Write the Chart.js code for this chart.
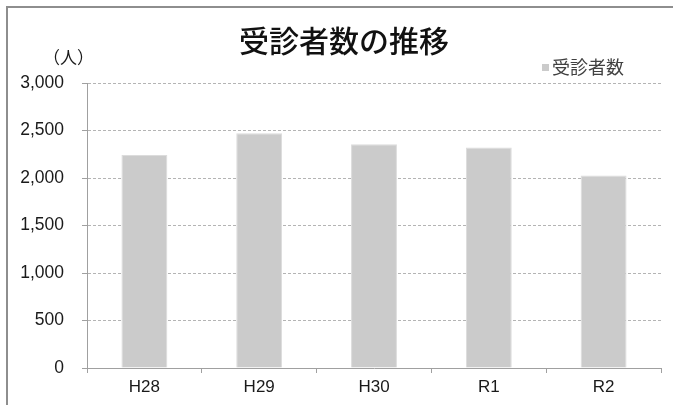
<!DOCTYPE html>
<html lang="ja">
<head>
<meta charset="utf-8">
<title>受診者数の推移</title>
<script src="https://cdn.jsdelivr.net/npm/chart.js@4/dist/chart.umd.min.js"></script>
<style>
  html, body { margin: 0; padding: 0; background: #ffffff; }
  #wrap { position: relative; width: 673px; height: 405px; }
</style>
</head>
<body>
<div id="wrap"><canvas id="chart" width="673" height="405"></canvas></div>
<script>
// 年度ごとの受診者数（人）
const years = ['H28', 'H29', 'H30', 'R1', 'R2'];
const patients = [2241, 2470, 2354, 2322, 2027];
const yTicks = [0, 500, 1000, 1500, 2000, 2500, 3000];

const seriesName = '受診者数';
const chartTitle = '受診者数の推移';
const unitLabel = '（人）';

const JP_FONT = '"Noto Sans CJK JP", "Noto Sans", sans-serif';
const NUM_FONT = '"Liberation Sans", Arial, sans-serif';
const TEXT = '#1a1a1a';
const AXIS = '#a0a0a0';
const GRID = '#b4b4b4';
const BAR = '#cbcbcb';

// frame, title, legend and unit caption drawn directly on the canvas
const decorations = {
  id: 'decorations',
  beforeDraw(chart) {
    const ctx = chart.ctx;
    ctx.save();
    ctx.fillStyle = '#ffffff';
    ctx.fillRect(0, 0, chart.width, chart.height);
    ctx.strokeStyle = '#8e8e8e';
    ctx.lineWidth = 2;
    ctx.beginPath();
    ctx.moveTo(7, chart.height + 2);
    ctx.lineTo(7, 7);
    ctx.lineTo(chart.width + 2, 7);
    ctx.stroke();
    ctx.restore();
  },
  afterDraw(chart) {
    const ctx = chart.ctx;
    ctx.save();
    ctx.fillStyle = '#111111';
    ctx.textBaseline = 'middle';

    ctx.font = '500 30px ' + JP_FONT;
    ctx.textAlign = 'center';
    ctx.fillText(chartTitle, 344, 41);

    ctx.fillStyle = TEXT;
    ctx.font = '17px ' + JP_FONT;
    ctx.textAlign = 'left';
    ctx.fillText(unitLabel, 43, 58);

    const ds = chart.data.datasets[0];
    ctx.fillStyle = ds.backgroundColor;
    ctx.fillRect(542, 64, 7, 7);
    ctx.fillStyle = '#404040';
    ctx.font = '18px ' + JP_FONT;
    ctx.fillText(ds.label, 552, 67.5);
    ctx.restore();
  }
};

new Chart(document.getElementById('chart'), {
  type: 'bar',
  data: {
    labels: years,
    datasets: [{
      label: seriesName,
      data: patients,
      backgroundColor: BAR,
      borderColor: '#dcdcdc',
      borderWidth: 1,
      barPercentage: 0.4,
      categoryPercentage: 1.0
    }]
  },
  options: {
    responsive: false,
    animation: false,
    devicePixelRatio: 1,
    layout: { padding: { top: 83, left: 0, right: 12, bottom: 0 } },
    plugins: {
      legend: { display: false },
      title: { display: false },
      tooltip: { enabled: false }
    },
    scales: {
      x: {
        afterFit(scale) { scale.height = 37; },
        grid: {
          display: true,
          drawOnChartArea: false,
          offset: true,
          tickLength: 5,
          tickColor: AXIS,
          color: AXIS
        },
        border: { display: true, color: AXIS, width: 1 },
        ticks: {
          color: TEXT,
          padding: 4,
          font: { family: NUM_FONT, size: 17 }
        }
      },
      y: {
        min: 0,
        max: 3000,
        afterFit(scale) { scale.width = 87; },
        afterBuildTicks(scale) {
          scale.ticks = yTicks.map(v => ({ value: v }));
        },
        grid: {
          color: ctx => (ctx.tick && ctx.tick.value === 0 ? 'rgba(0,0,0,0)' : GRID),
          tickColor: AXIS,
          tickLength: 5,
          tickBorderDash: [],
          lineWidth: 1
        },
        border: { display: true, color: AXIS, width: 1, dash: [3, 2] },
        ticks: {
          color: TEXT,
          padding: 18,
          font: { family: NUM_FONT, size: 17.5 },
          callback: v => Number(v).toLocaleString('en-US')
        }
      }
    }
  },
  plugins: [decorations]
});
</script>
</body>
</html>
